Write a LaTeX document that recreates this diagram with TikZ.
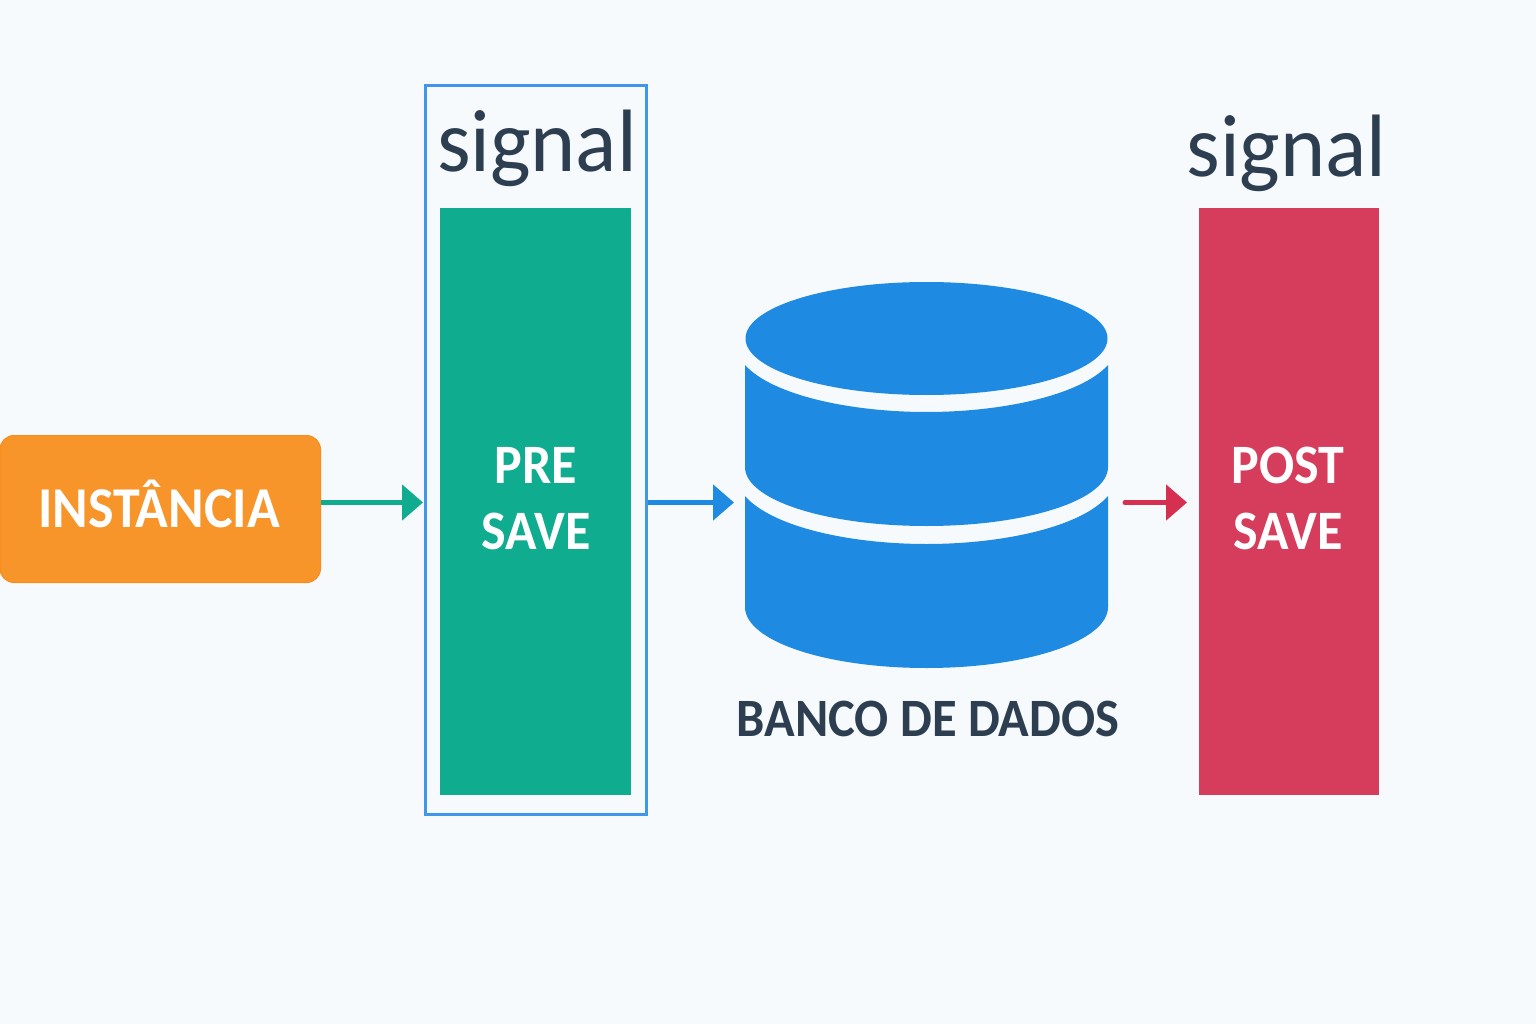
\documentclass[tikz,border=0pt]{standalone}
\usepackage{fontspec}
\setmainfont{Carlito}
\usetikzlibrary{arrows.meta}
\definecolor{bgc}{HTML}{F6FAFD}
\definecolor{orangec}{HTML}{F7952A}
\definecolor{orangee}{HTML}{F98C1C}
\definecolor{greenc}{HTML}{10AC90}
\definecolor{redc}{HTML}{D63D5C}
\definecolor{rede}{HTML}{D5304F}
\definecolor{bluec}{HTML}{1F8AE2}
\definecolor{framec}{HTML}{3F96EA}
\definecolor{inkc}{HTML}{2C3E50}
\newcommand{\tallA}[1]{\scalebox{1}[1.07]{#1}}
\newcommand{\tallB}[1]{\scalebox{1}[1.03]{#1}}
\tikzset{
  x=1pt,y=-1pt,
  panel/.style={rectangle,inner sep=0pt,outer sep=0pt,anchor=north west},
  paneltext/.style={inner sep=0pt,anchor=base,text=white,font=\fontsize{52}{60}\selectfont\bfseries},
  signaltext/.style={inner sep=0pt,anchor=base,text=inkc,font=\fontsize{86}{90}\selectfont},
  dbtext/.style={inner sep=0pt,anchor=base,text=inkc,font=\fontsize{50.5}{60}\selectfont\bfseries},
  flow/.style={line width=5pt,-{Triangle[length=21pt,width=35pt]}},
}
\begin{document}
\begin{tikzpicture}
\useasboundingbox (0,0) rectangle (1536,1024);
\fill[bgc] (0,0) rectangle (1536,1024);

% Instance box
\node[panel,fill=orangec,draw=orangee,line width=1pt,rounded corners=14pt,
  minimum width=320.5pt,minimum height=147pt] (inst) at (0,435.5) {};
\node[paneltext,font=\fontsize{54}{60}\selectfont\bfseries] (instt) at (159,527) {\tallA{INST\^ANCIA}};

% Pre-save frame
\node[panel,draw=framec,line width=3pt,minimum width=221.5pt,minimum height=728pt] (frame) at (425,86) {};
\node[signaltext] (sig1) at (537,171.5) {\tallB{signal}};
\node[panel,fill=greenc,minimum width=191pt,minimum height=587pt] (pre) at (440,208) {};
\node[paneltext] (pre1) at (536,483) {\tallA{PRE}};
\node[paneltext] (pre2) at (536,549) {\tallA{SAVE}};

% Post-save
\node[signaltext] (sig2) at (1286.5,176.5) {\tallB{signal}};
\node[panel,fill=redc,minimum width=180pt,minimum height=587pt] (post) at (1199,208) {};
\node[paneltext] (post1) at (1288,483) {\tallA{POST}};
\node[paneltext] (post2) at (1288,549) {\tallA{SAVE}};

% Database
\fill[bluec] (926.5,338.5) ellipse [x radius=181pt,y radius=56.5pt];
\fill[bluec] (745,365) .. controls (772,395) and (850,412) .. (926.5,412)
  .. controls (1003,412) and (1081,395) .. (1108,365) -- (1108,467)
  .. controls (1108,500) and (1027,526) .. (926.5,526)
  .. controls (826,526) and (745,500) .. (745,467) -- cycle;
\fill[bluec] (745,496) .. controls (772,527) and (850,544) .. (926.5,544)
  .. controls (1003,544) and (1081,527) .. (1108,496) -- (1108,607)
  .. controls (1108,641) and (1027,668) .. (926.5,668)
  .. controls (826,668) and (745,641) .. (745,607) -- cycle;
\node[dbtext] (dbl) at (928,736) {\tallA{BANCO DE DADOS}};

% Connector ends
\coordinate (dbin) at (734,502.5);
\coordinate (dbout) at (1125,502.5);
\coordinate (postin) at (1187,502.5);
\coordinate (framein) at (423,502.5);
\coordinate (instout) at (321,502.5);
\coordinate (frameout) at (648,502.5);

\draw[flow,greenc] (instout) -- (framein);
\draw[flow,bluec] (frameout) -- (dbin);
\draw[flow,rede,line cap=round] (dbout) -- (postin);
\end{tikzpicture}
\end{document}
